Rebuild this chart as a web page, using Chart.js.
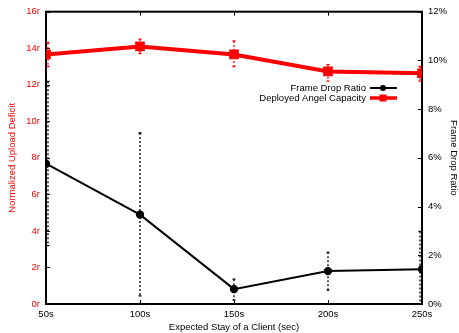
<!DOCTYPE html>
<html>
<head>
<meta charset="utf-8">
<script src="https://cdn.jsdelivr.net/npm/chart.js@4"></script>
<style>
  html, body { margin: 0; padding: 0; background: #fff; }
  #wrap { width: 459px; height: 333px; }
</style>
</head>
<body>
<div id="wrap"><canvas id="c" width="459" height="333"></canvas></div>
<script>
const stays = [50, 100, 150, 200, 250]
const deficit = [13.66, 14.1, 13.66, 12.73, 12.63]
const deficitLow = [13.0, 13.7, 13.0, 12.2, 12.2]
const deficitHigh = [14.3, 14.5, 14.4, 13.1, 13.0]
const dropRatio = [5.76, 3.67, 0.61, 1.35, 1.43]
const dropLow = [2.4, 0.33, 0.16, 0.57, 0.0]
const dropHigh = [9.14, 7.02, 1.02, 2.12, 2.98]

const FONT = 'Liberation Sans, Arial, sans-serif'
const FS = 9.5

function pts(ys) {
  return stays.map((x, i) => { return { x: x, y: ys[i] } })
}

// dashed error bars, drawn through the scales
const errorBars = {
  id: 'errorBars',
  afterDatasetsDraw(chart) {
    const ctx = chart.ctx
    const xs = chart.scales.x
    const a = chart.chartArea
    const sets = [
      { axis: 'yL', lo: deficitLow, hi: deficitHigh, color: 'red' },
      { axis: 'yR', lo: dropLow, hi: dropHigh, color: 'black' }
    ]
    ctx.save()
    sets.forEach(s => {
      const ys = chart.scales[s.axis]
      ctx.strokeStyle = s.color
      ctx.lineWidth = 1.3
      stays.forEach((x, i) => {
        let px = xs.getPixelForValue(x)
        // keep bars on the frame edges visible
        px = Math.min(Math.max(px, a.left + 2), a.right - 2)
        const top = ys.getPixelForValue(s.hi[i])
        const bot = ys.getPixelForValue(s.lo[i])
        ctx.setLineDash([2, 2])
        ctx.beginPath(); ctx.moveTo(px, top); ctx.lineTo(px, bot); ctx.stroke()
        ctx.setLineDash([])
        ctx.beginPath()
        ctx.moveTo(px - 1.5, top); ctx.lineTo(px + 1.5, top)
        ctx.moveTo(px - 1.5, bot); ctx.lineTo(px + 1.5, bot)
        ctx.stroke()
      })
    })
    ctx.restore()
  }
}

// frame, inward ticks and the legend in gnuplot style
const frame = {
  id: 'frame',
  beforeDatasetsDraw(chart) {
    const ctx = chart.ctx
    const a = chart.chartArea
    const xs = chart.scales.x, yl = chart.scales.yL, yr = chart.scales.yR
    ctx.save()
    ctx.strokeStyle = '#000'
    ctx.lineWidth = 1
    ctx.beginPath()
    xs.ticks.forEach(t => {
      const px = Math.round(xs.getPixelForValue(t.value)) + 0.5
      ctx.moveTo(px, a.bottom); ctx.lineTo(px, a.bottom - 4)
      ctx.moveTo(px, a.top); ctx.lineTo(px, a.top + 4)
    })
    yl.ticks.forEach(t => {
      const py = Math.round(yl.getPixelForValue(t.value)) + 0.5
      ctx.moveTo(a.left, py); ctx.lineTo(a.left + 4, py)
    })
    yr.ticks.forEach(t => {
      const py = Math.round(yr.getPixelForValue(t.value)) + 0.5
      ctx.moveTo(a.right, py); ctx.lineTo(a.right - 4, py)
    })
    ctx.stroke()
    ctx.lineWidth = 2
    ctx.strokeRect(a.left, a.top, a.right - a.left, a.bottom - a.top)
    ctx.restore()
  },
  afterDatasetsDraw(chart) {
    const ctx = chart.ctx
    const items = [
      { label: 'Frame Drop Ratio', color: 'black', marker: 'circle', y: 88 },
      { label: 'Deployed Angel Capacity', color: 'red', marker: 'rect', y: 98 }
    ]
    ctx.save()
    ctx.font = FS + 'px ' + FONT
    ctx.textAlign = 'right'
    ctx.textBaseline = 'middle'
    items.forEach(it => {
      ctx.fillStyle = '#000'
      ctx.fillText(it.label, 366, it.y)
      ctx.strokeStyle = it.color
      ctx.fillStyle = it.color
      ctx.lineWidth = it.marker === 'rect' ? 3.5 : 2
      ctx.beginPath(); ctx.moveTo(370, it.y); ctx.lineTo(397, it.y); ctx.stroke()
      if (it.marker === 'rect') {
        ctx.fillRect(379.5, it.y - 3.5, 7, 7)
      } else {
        ctx.beginPath(); ctx.arc(383, it.y, 3, 0, Math.PI * 2); ctx.fill()
      }
    })
    ctx.restore()
  }
}

new Chart(document.getElementById('c').getContext('2d'), {
  type: 'line',
  data: {
    datasets: [
      {
        label: 'Deployed Angel Capacity',
        data: pts(deficit),
        yAxisID: 'yL',
        borderColor: 'red',
        backgroundColor: 'red',
        borderWidth: 4,
        pointStyle: 'rect',
        pointRadius: 4,
        tension: 0
      },
      {
        label: 'Frame Drop Ratio',
        data: pts(dropRatio),
        yAxisID: 'yR',
        borderColor: 'black',
        backgroundColor: 'black',
        borderWidth: 2,
        pointStyle: 'circle',
        pointRadius: 3.2,
        tension: 0
      }
    ]
  },
  options: {
    responsive: false,
    animation: false,
    layout: { padding: { top: 10, left: 0, right: 0, bottom: 0 } },
    plugins: { legend: { display: false }, tooltip: { enabled: false } },
    scales: {
      x: {
        type: 'linear',
        min: 50, max: 250,
        grid: { display: false, drawTicks: false },
        border: { display: false },
        ticks: {
          stepSize: 50, color: '#000', padding: 5,
          font: { family: FONT, size: FS },
          callback: v => v + 's'
        },
        title: {
          display: true, text: 'Expected Stay of a Client (sec)', color: '#000',
          font: { family: FONT, size: FS }, padding: { top: 0, bottom: 0 }
        },
        afterFit: s => { s.height = 29 }
      },
      yL: {
        position: 'left',
        min: 0, max: 16,
        grid: { display: false, drawTicks: false },
        border: { display: false },
        ticks: {
          stepSize: 2, color: 'red', padding: 6,
          font: { family: FONT, size: FS },
          callback: v => v + 'r'
        },
        title: {
          display: true, text: 'Normalized Upload Deficit', color: 'red',
          font: { family: FONT, size: FS }, padding: { top: 7, bottom: 0 }
        },
        afterFit: s => { s.width = 46 }
      },
      yR: {
        position: 'right',
        min: 0, max: 12,
        grid: { display: false, drawTicks: false },
        border: { display: false },
        ticks: {
          stepSize: 2, color: '#000', padding: 6,
          font: { family: FONT, size: FS },
          callback: v => v + '%'
        },
        title: {
          display: true, text: 'Frame Drop Ratio', color: '#000',
          font: { family: FONT, size: FS }, padding: { top: 0, bottom: 0 }
        },
        afterFit: s => { s.width = 37 }
      }
    }
  },
  plugins: [frame, errorBars]
})
</script>
</body>
</html>
